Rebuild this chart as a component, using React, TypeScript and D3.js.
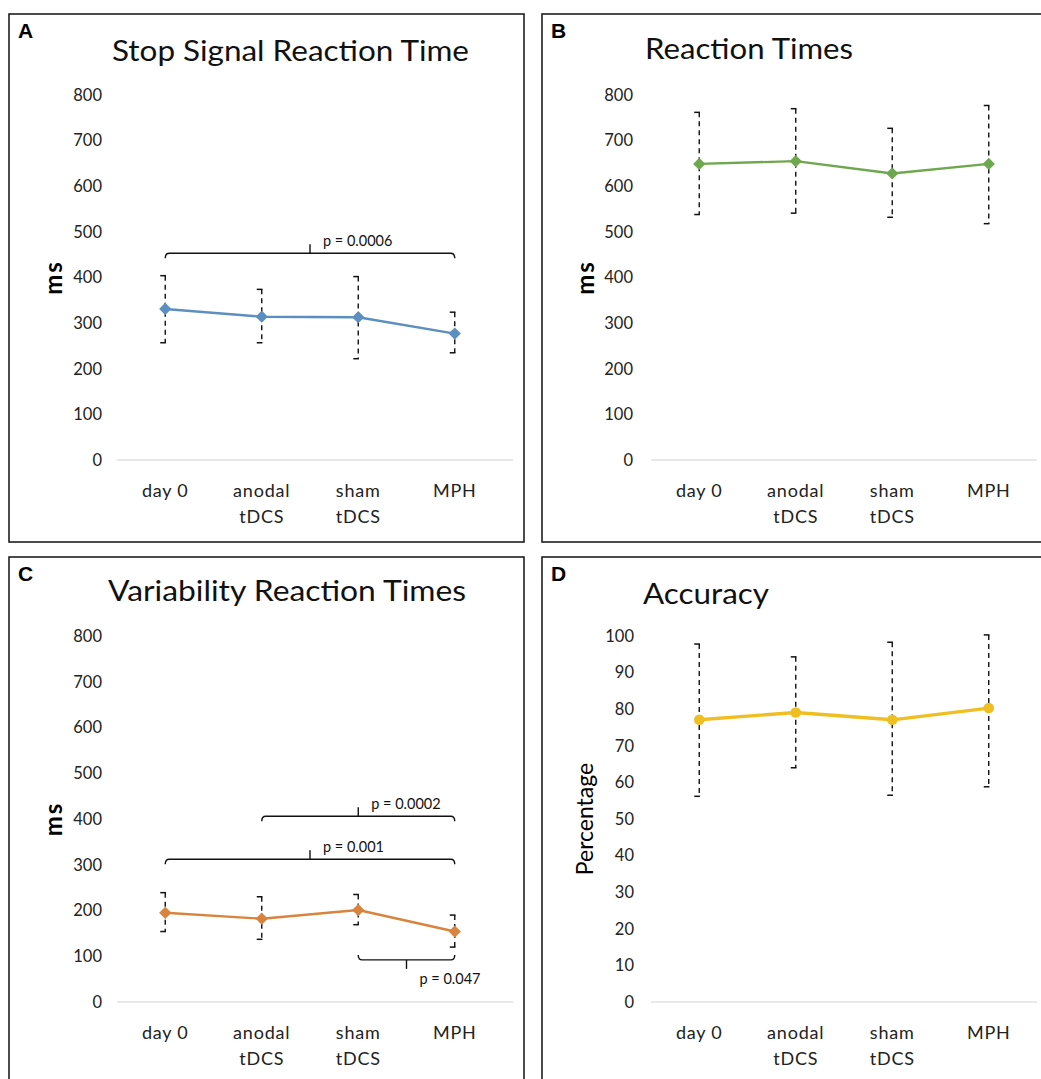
import React, { useEffect, useRef } from 'react';
import * as d3 from 'd3';

// categories on every x axis (second line where the label wraps)
const categories = ['day 0', 'anodal tDCS', 'sham tDCS', 'MPH'];
const categoryLines = [['day 0'], ['anodal', 'tDCS'], ['sham', 'tDCS'], ['MPH']];

// A - stop signal reaction time (ms)
const ssrtMean = [331, 314, 313, 277];
const ssrtUpper = [404, 374, 402, 324];
const ssrtLower = [257, 257, 222, 235];

// B - reaction times (ms)
const rtMean = [649, 655, 628, 649];
const rtUpper = [762, 770, 727, 777];
const rtLower = [538, 541, 532, 518];

// C - variability of reaction times (ms)
const varMean = [195, 182, 201, 154];
const varUpper = [239, 230, 235, 190];
const varLower = [154, 137, 169, 120];

// D - accuracy (%)
const accMean = [77.1, 79.1, 77.1, 80.3];
const accUpper = [97.8, 94.3, 98.3, 100.3];
const accLower = [56.2, 64, 56.5, 58.8];

// ms axis ticks and percentage axis ticks
const msTicks = [0, 100, 200, 300, 400, 500, 600, 700, 800];
const pctTicks = [0, 10, 20, 30, 40, 50, 60, 70, 80, 90, 100];

// significance brackets: [from, to, level, label, direction]
const ssrtSig = [['day 0', 'MPH', 453, 'p = 0.0006', 'down']];
const varSig = [
  ['anodal tDCS', 'MPH', 406, 'p = 0.0002', 'down'],
  ['day 0', 'MPH', 312, 'p = 0.001', 'down'],
  ['sham tDCS', 'MPH', 92, 'p = 0.047', 'up'],
];

const FONT = "Lato, 'Open Sans', sans-serif";

const panels = [
  {
    letter: 'A', box: [9, 14, 524, 542], axisX: [117, 503], lineEnd: 513, axisY: [460, 95],
    domain: [0, 800], ticks: msTicks, tickRight: 102,
    title: 'Stop Signal Reaction Time', titleX: 112, titleY: 61, titleLen: 357,
    yTitle: 'ms', yTitleX: 54, yTitleBold: true,
    labelY: 497, color: '#5b8fbf', marker: 'diamond', width: 2.4,
    mean: ssrtMean, upper: ssrtUpper, lower: ssrtLower, sig: ssrtSig,
  },
  {
    letter: 'B', box: [542, 14, 1060, 542], axisX: [651, 1037], lineEnd: 1037, axisY: [460, 95],
    domain: [0, 800], ticks: msTicks, tickRight: 633,
    title: 'Reaction Times', titleX: 645, titleY: 59, titleLen: 208,
    yTitle: 'ms', yTitleX: 586, yTitleBold: true,
    labelY: 497, color: '#6ea84e', marker: 'diamond', width: 2.4,
    mean: rtMean, upper: rtUpper, lower: rtLower, sig: [],
  },
  {
    letter: 'C', box: [9, 557, 524, 1100], axisX: [117, 503], lineEnd: 513, axisY: [1002, 636],
    domain: [0, 800], ticks: msTicks, tickRight: 102,
    title: 'Variability Reaction Times', titleX: 108, titleY: 601, titleLen: 358,
    yTitle: 'ms', yTitleX: 54, yTitleBold: true,
    labelY: 1039, color: '#d9843e', marker: 'diamond', width: 2.4,
    mean: varMean, upper: varUpper, lower: varLower, sig: varSig,
  },
  {
    letter: 'D', box: [542, 557, 1060, 1100], axisX: [651, 1037], lineEnd: 1037, axisY: [1002, 636],
    domain: [0, 100], ticks: pctTicks, tickRight: 634,
    title: 'Accuracy', titleX: 643, titleY: 604, titleLen: 126,
    yTitle: 'Percentage', yTitleX: 585, yTitleBold: false,
    labelY: 1039, color: '#efbf22', marker: 'circle', width: 3.4,
    mean: accMean, upper: accUpper, lower: accLower, sig: [],
  },
];

const App = () => {
  const svgRef = useRef(null);

  useEffect(() => {
    const svg = d3.select(svgRef.current);
    svg.selectAll('*').remove();

    panels.forEach(p => {
      const g = svg.append('g');
      const [bx0, by0, bx1, by1] = p.box;

      g.append('rect')
        .attr('x', bx0).attr('y', by0)
        .attr('width', bx1 - bx0).attr('height', by1 - by0)
        .attr('fill', 'white').attr('stroke', '#111').attr('stroke-width', 1.5);

      // panel letter
      g.append('text')
        .attr('x', bx0 + 9).attr('y', by0 + 24)
        .style('font-family', "'Liberation Sans', Arial, sans-serif")
        .style('font-weight', 'bold').style('font-size', '21px')
        .text(p.letter);

      g.append('text')
        .attr('x', p.titleX).attr('y', p.titleY)
        .attr('textLength', p.titleLen).attr('lengthAdjust', 'spacingAndGlyphs')
        .style('font-family', FONT).style('font-size', '29px').style('fill', '#111')
        .text(p.title);

      const x = d3.scaleBand().domain(categories).range(p.axisX);
      const y = d3.scaleLinear().domain(p.domain).range(p.axisY);
      const cx = c => x(c) + x.bandwidth() / 2;

      // y tick labels
      g.selectAll('.ytick').data(p.ticks).enter().append('text')
        .attr('x', p.tickRight).attr('y', d => y(d))
        .attr('text-anchor', 'end').attr('dy', '0.35em')
        .style('font-family', FONT).style('font-size', '16.5px').style('fill', '#222')
        .text(d => d);

      // baseline
      g.append('line')
        .attr('x1', p.axisX[0]).attr('x2', p.lineEnd)
        .attr('y1', y(0)).attr('y2', y(0))
        .attr('stroke', '#d4d4d4').attr('stroke-width', 1.2);

      // x category labels
      categories.forEach((c, i) => {
        categoryLines[i].forEach((line, j) => {
          g.append('text')
            .attr('x', cx(c)).attr('y', p.labelY + j * 26)
            .attr('text-anchor', 'middle')
            .style('font-family', FONT).style('font-size', '18px')
            .style('letter-spacing', '0.8px').style('fill', '#222')
            .text(line);
        });
      });

      // y axis title
      g.append('text')
        .attr('transform', `translate(${p.yTitleX}, ${(p.axisY[0] + p.axisY[1]) / 2}) rotate(-90)`)
        .attr('text-anchor', 'middle').attr('dy', '0.35em')
        .style('font-family', FONT).style('font-size', p.yTitleBold ? '24px' : '23px')
        .style('font-weight', p.yTitleBold ? 'bold' : 'normal')
        .style('letter-spacing', p.yTitleBold ? '2px' : '0px')
        .text(p.yTitle);

      // error bars
      categories.forEach((c, i) => {
        const xc = cx(c);
        g.append('line')
          .attr('x1', xc).attr('x2', xc)
          .attr('y1', y(p.upper[i])).attr('y2', y(p.lower[i]))
          .attr('stroke', '#111').attr('stroke-width', 1.4)
          .attr('stroke-dasharray', '5,4');
        [p.upper[i], p.lower[i]].forEach(v => {
          g.append('line')
            .attr('x1', xc - 5).attr('x2', xc + 0.7)
            .attr('y1', y(v)).attr('y2', y(v))
            .attr('stroke', '#111').attr('stroke-width', 1.5);
        });
      });

      // mean line
      const line = d3.line()
        .x((d, i) => cx(categories[i]))
        .y(d => y(d));
      g.append('path')
        .datum(p.mean)
        .attr('d', line)
        .attr('fill', 'none').attr('stroke', p.color)
        .attr('stroke-width', p.width).attr('stroke-linejoin', 'round');

      // markers
      if (p.marker === 'diamond') {
        g.selectAll('.mk').data(p.mean).enter().append('path')
          .attr('d', d3.symbol(d3.symbolSquare, 75)())
          .attr('transform', (d, i) => `translate(${cx(categories[i])}, ${y(d)}) rotate(45)`)
          .attr('fill', p.color);
      } else {
        g.selectAll('.mk').data(p.mean).enter().append('circle')
          .attr('cx', (d, i) => cx(categories[i])).attr('cy', d => y(d))
          .attr('r', 5.3).attr('fill', p.color);
      }

      // significance brackets
      p.sig.forEach(([from, to, level, label, dir]) => {
        const xa = cx(from);
        const xb = cx(to);
        const yy = y(level);
        const mid = (xa + xb) / 2;
        const s = dir === 'down' ? 1 : -1;
        g.append('path')
          .attr('d', `M${xa},${yy + 5 * s} Q${xa},${yy} ${xa + 4},${yy} L${xb - 4},${yy} Q${xb},${yy} ${xb},${yy + 5 * s}`)
          .attr('fill', 'none').attr('stroke', '#111').attr('stroke-width', 1.4);
        g.append('line')
          .attr('x1', mid).attr('x2', mid)
          .attr('y1', yy).attr('y2', yy - 9 * s)
          .attr('stroke', '#111').attr('stroke-width', 1.4);
        g.append('text')
          .attr('x', mid + 13)
          .attr('y', dir === 'down' ? yy - 7 : yy + 24)
          .style('font-family', FONT).style('font-size', '14.5px').style('fill', '#111')
          .text(label);
      });
    });
  }, []);

  return (
    <svg ref={svgRef} width={1041} height={1079}
      style={{ position: 'absolute', left: 0, top: 0, background: 'white' }}></svg>
  );
};

export default App;
